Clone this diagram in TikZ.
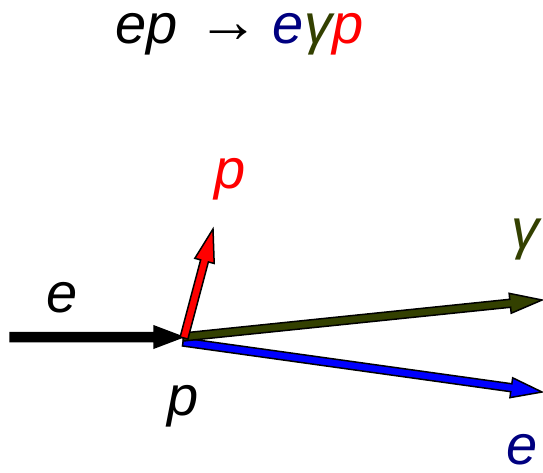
\documentclass[tikz,border=0pt]{standalone}
\usepackage{fontspec}
\setmainfont{Liberation Sans}
\usetikzlibrary{calc}
\definecolor{navyblue}{HTML}{000080}
\definecolor{darkolive}{HTML}{334000}
\definecolor{pureblue}{HTML}{0000FF}
\definecolor{purered}{HTML}{FF0000}
\newcommand{\blockarrow}[6]{% start, tip, fill, half shaft, half head, head length
  \coordinate (neck) at ($(#2)!#6!(#1)$);
  \draw[outl, fill=#3] ($(#1)!#4!90:(#2)$) -- ($(neck)!#4!90:(#2)$) -- ($(neck)!#5!90:(#2)$) -- (#2)
    -- ($(neck)!#5!-90:(#2)$) -- ($(neck)!#4!-90:(#2)$) -- ($(#1)!#4!-90:(#2)$) -- cycle;
}
\begin{document}
\begin{tikzpicture}[x=1pt,y=-1pt,
  outl/.style={draw=black, line width=1.5pt, line join=miter},
  lab/.style={inner sep=0pt, anchor=base, font=\fontsize{56}{62}\selectfont\itshape}]
\useasboundingbox (0,0) rectangle (543,472);
% title
\node[lab] (t1) at (147,43) {ep};
\node[inner sep=0pt, anchor=base, font=\fontsize{62}{66}\selectfont] (t2) at (228,42) {→};
\node[lab] (t3) at (318,43) {\textcolor{navyblue}{e}\textcolor{darkolive}{γ}\textcolor{purered}{p}};
% coordinates
\coordinate (bs) at (10,337);
\coordinate (bt) at (183,337);
\coordinate (os) at (183,337);
\coordinate (ot) at (542,300);
\coordinate (us) at (183,342);
\coordinate (ut) at (542,392);
\coordinate (rs) at (184,338);
\coordinate (rt) at (213,229);
% arrows
\blockarrow{bs}{bt}{black}{4.5pt}{11pt}{29pt}
\blockarrow{us}{ut}{pureblue}{4pt}{10pt}{31pt}
\blockarrow{os}{ot}{darkolive}{4pt}{10pt}{32pt}
\blockarrow{rs}{rt}{purered}{4pt}{10pt}{33pt}
% labels
\node[lab, text=purered] (lp) at (230,188) {p};
\node[lab, text=darkolive] (lg) at (525,248) {γ};
\node[lab] (le) at (62,312) {e};
\node[lab] (lpp) at (183,415) {p};
\node[lab, text=navyblue] (le2) at (522,464) {e};
\end{tikzpicture}
\end{document}
